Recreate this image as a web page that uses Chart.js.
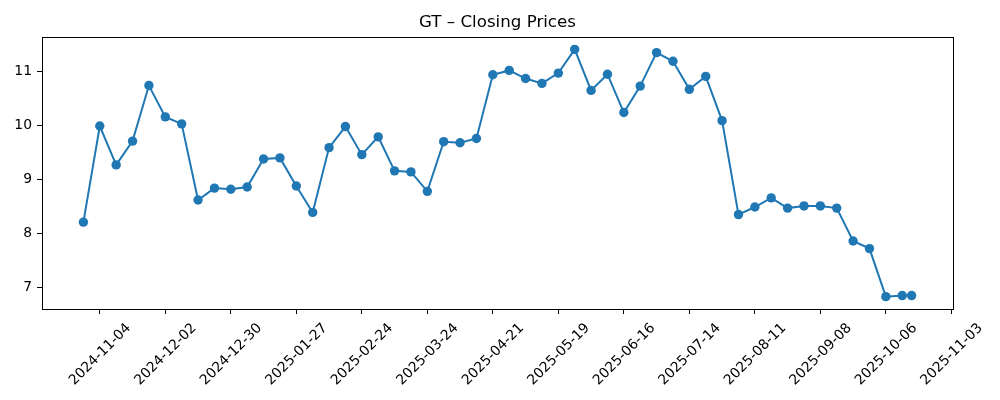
<!DOCTYPE html>
<html>
<head>
<meta charset="utf-8">
<script src="https://cdn.jsdelivr.net/npm/chart.js@4/dist/chart.umd.min.js"></script>
<style>
  html, body { margin: 0; padding: 0; background: #fff; }
  #wrap { width: 1000px; height: 400px; position: relative; }
</style>
</head>
<body>
<div id="wrap"><canvas id="c"></canvas></div>
<script>
const titleText = 'GT \u2013 Closing Prices';

const dates = [
  '2024-10-28','2024-11-04','2024-11-11','2024-11-18','2024-11-25','2024-12-02','2024-12-09','2024-12-16','2024-12-23','2024-12-30',
  '2025-01-06','2025-01-13','2025-01-20','2025-01-27','2025-02-03','2025-02-10','2025-02-17','2025-02-24',
  '2025-03-03','2025-03-10','2025-03-17','2025-03-24','2025-03-31','2025-04-07','2025-04-14','2025-04-21','2025-04-28',
  '2025-05-05','2025-05-12','2025-05-19','2025-05-26','2025-06-02','2025-06-09','2025-06-16','2025-06-23','2025-06-30',
  '2025-07-07','2025-07-14','2025-07-21','2025-07-28','2025-08-04','2025-08-11','2025-08-18','2025-08-25',
  '2025-09-01','2025-09-08','2025-09-15','2025-09-22','2025-09-29','2025-10-06','2025-10-13','2025-10-17'
];

const closes = [
  8.21, 9.99, 9.27, 9.71, 10.74, 10.16, 10.03, 8.62, 8.84, 8.82,
  8.86, 9.38, 9.40, 8.88, 8.39, 9.59, 9.98, 9.46,
  9.79, 9.16, 9.14, 8.78, 9.70, 9.68, 9.76, 10.94, 11.02,
  10.87, 10.78, 10.97, 11.41, 10.65, 10.95, 10.24, 10.73, 11.35,
  11.19, 10.67, 10.91, 10.09, 8.35, 8.49, 8.66, 8.47,
  8.51, 8.51, 8.47, 7.86, 7.72, 6.83, 6.85, 6.85
];

const xTickLabels = [
  '2024-11-04','2024-12-02','2024-12-30','2025-01-27','2025-02-24','2025-03-24','2025-04-21',
  '2025-05-19','2025-06-16','2025-07-14','2025-08-11','2025-09-08','2025-10-06','2025-11-03'
];

const yTickValues = [7, 8, 9, 10, 11];

const DAY = 86400000;
const toDay = s => { const [y, m, d] = s.split('-').map(Number); return Date.UTC(y, m - 1, d) / DAY; };
const fromDay = n => new Date(n * DAY).toISOString().slice(0, 10);

const xs = dates.map(toDay);
const xMinData = Math.min(...xs), xMaxData = Math.max(...xs);
const xPad = (xMaxData - xMinData) * 0.05;
const yMinData = Math.min(...closes), yMaxData = Math.max(...closes);
const yPad = (yMaxData - yMinData) * 0.05;

const points = xs.map((x, i) => ({ x: x, y: closes[i] }));
const xTickValues = xTickLabels.map(toDay);

const frame = {
  id: 'frame',
  afterDatasetsDraw(chart) {
    const { ctx, chartArea: a } = chart;
    ctx.save();
    ctx.strokeStyle = '#000';
    ctx.lineWidth = 1;
    ctx.strokeRect(Math.round(a.left) + 0.5, Math.round(a.top) + 0.5, Math.round(a.right - a.left), Math.round(a.bottom - a.top));
    ctx.restore();
  }
};

const tickFont = { family: 'DejaVu Sans', size: 13.9 };

new Chart(document.getElementById('c'), {
  type: 'line',
  data: {
    datasets: [{
      data: points,
      borderColor: '#1f77b4',
      backgroundColor: '#1f77b4',
      borderWidth: 2,
      pointRadius: 4.7,
      pointHoverRadius: 4.7,
      pointBorderWidth: 0,
      pointBackgroundColor: '#1f77b4',
      tension: 0,
      fill: false
    }]
  },
  options: {
    responsive: true,
    maintainAspectRatio: false,
    animation: false,
    layout: { padding: { left: 0, right: 5, top: 0, bottom: 0 } },
    plugins: {
      legend: { display: false },
      tooltip: { enabled: false },
      title: {
        display: true,
        text: titleText,
        color: '#000',
        font: { family: 'DejaVu Sans', size: 16.67, weight: 'normal', lineHeight: 1.2 },
        padding: { top: 12.5, bottom: 4.5 }
      }
    },
    scales: {
      x: {
        type: 'linear',
        min: xMinData - xPad,
        max: xMaxData + xPad,
        afterBuildTicks: s => { s.ticks = xTickValues.map(v => ({ value: v })); },
        afterFit: s => { s.height = 91; },
        border: { display: false },
        grid: { drawOnChartArea: false, drawTicks: true, tickLength: 5, tickColor: '#000', tickWidth: 1 },
        ticks: {
          autoSkip: false,
          minRotation: 45,
          maxRotation: 45,
          labelOffset: 29,
          padding: 6,
          color: '#000',
          font: tickFont,
          callback: v => fromDay(v)
        }
      },
      y: {
        type: 'linear',
        min: yMinData - yPad,
        max: yMaxData + yPad,
        afterBuildTicks: s => { s.ticks = yTickValues.map(v => ({ value: v })); },
        afterFit: s => { s.width = 42; },
        border: { display: false },
        grid: { drawOnChartArea: false, drawTicks: true, tickLength: 5, tickColor: '#000', tickWidth: 1 },
        ticks: {
          padding: 5,
          color: '#000',
          font: tickFont,
          callback: v => String(v)
        }
      },
      ySpacer: {
        type: 'linear',
        position: 'right',
        display: true,
        afterFit: s => { s.width = 42; },
        border: { display: false },
        grid: { display: false, drawOnChartArea: false, drawTicks: false },
        ticks: { display: false }
      }
    }
  },
  plugins: [frame]
});
</script>
</body>
</html>
